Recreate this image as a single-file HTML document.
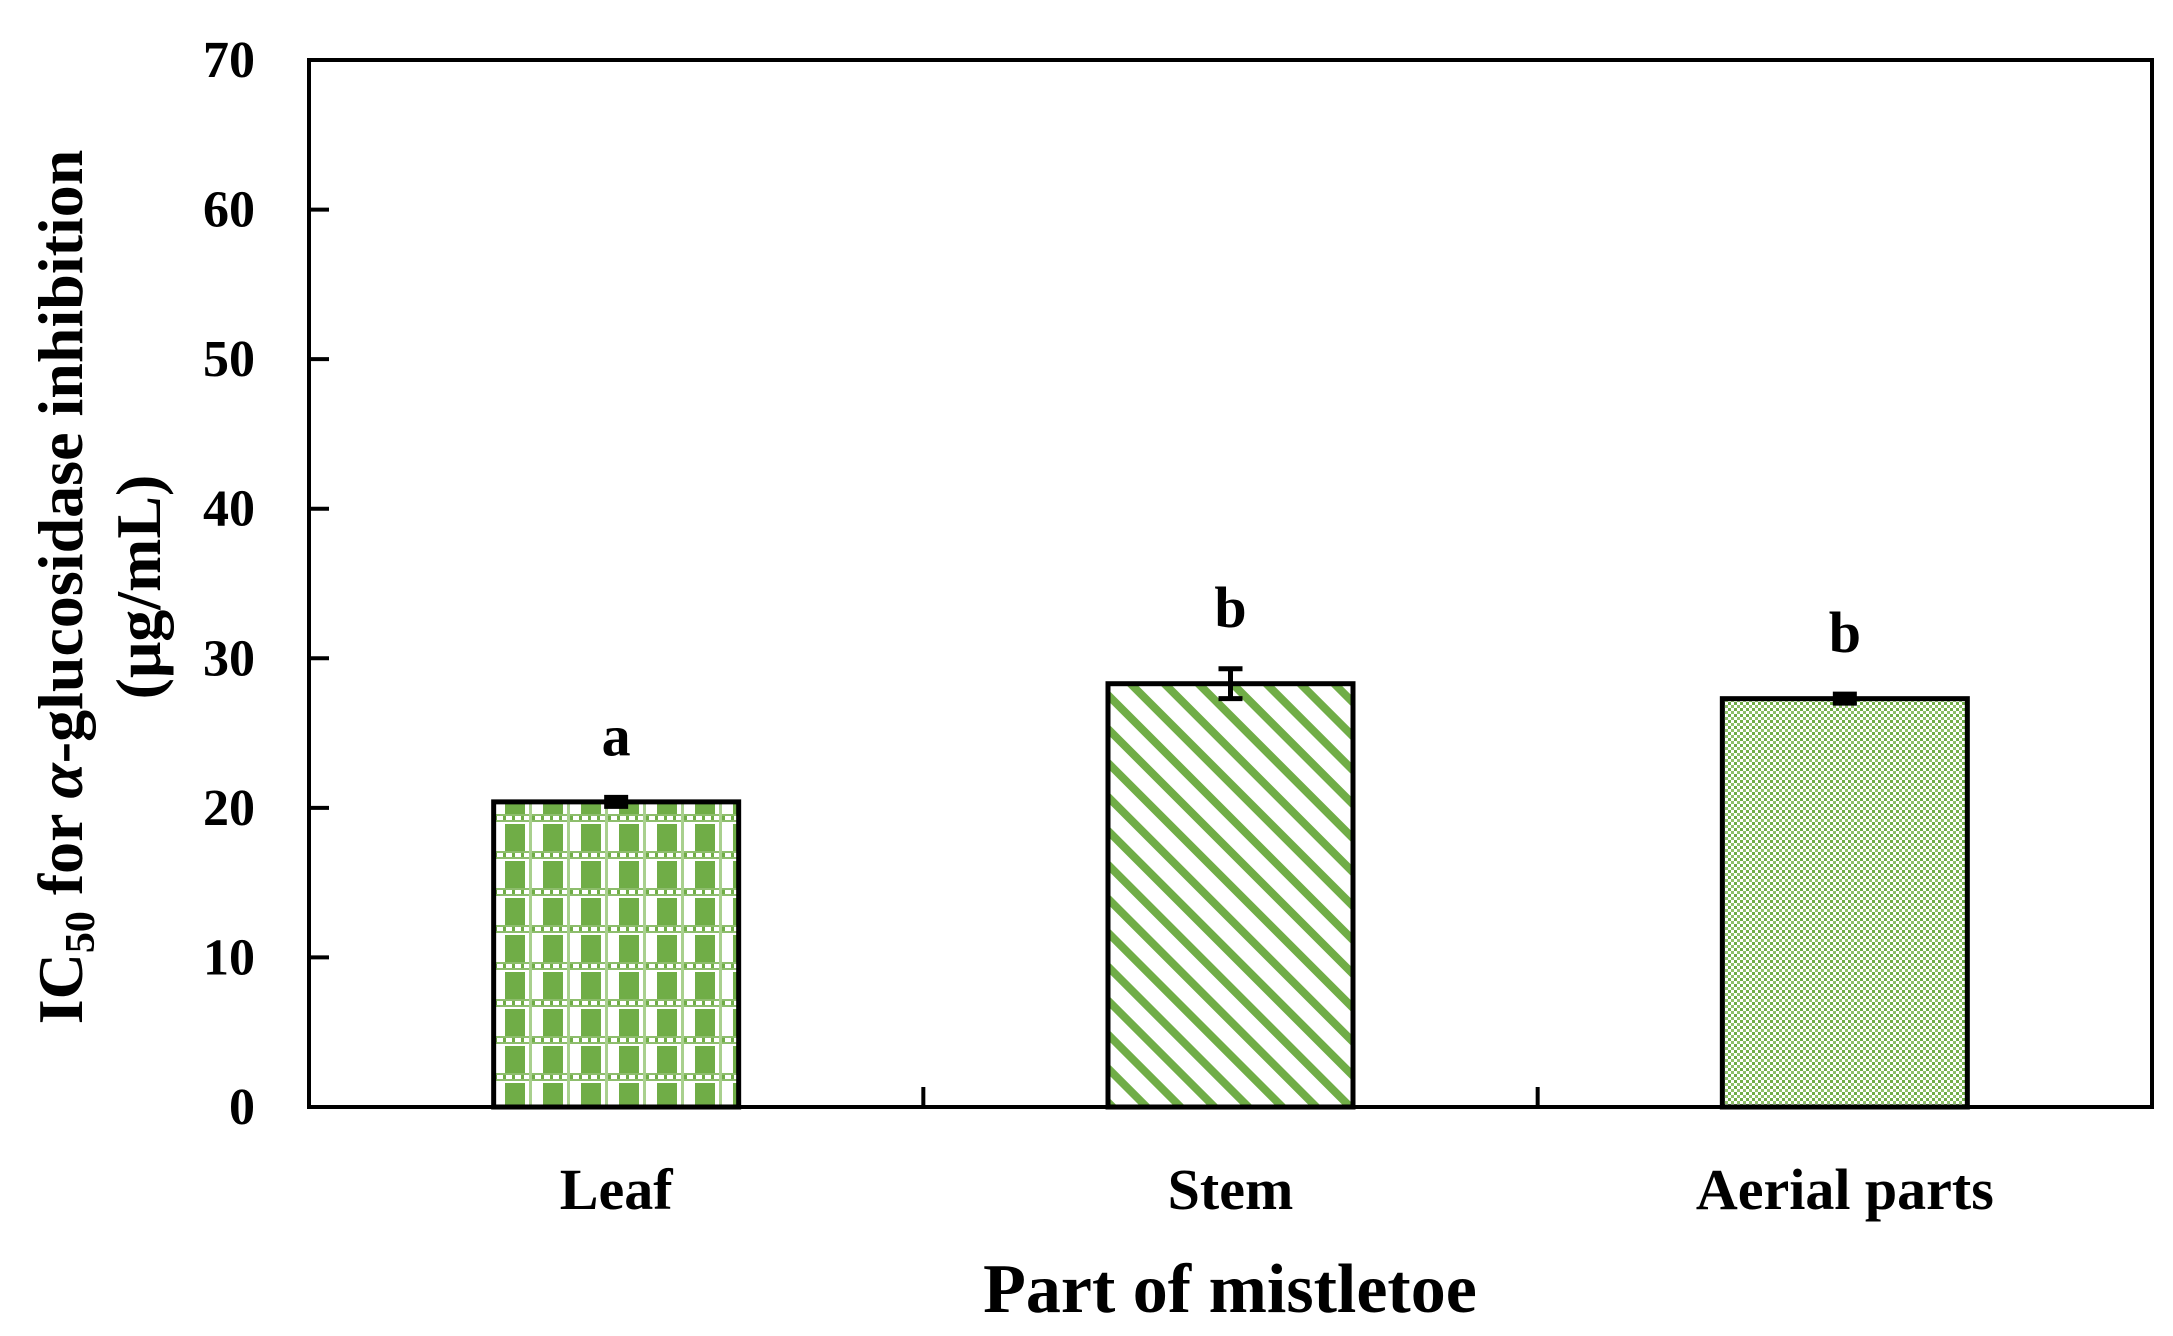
<!DOCTYPE html>
<html><head><meta charset="utf-8"><style>
html,body{margin:0;padding:0;background:#fff;}
svg{display:block;}
text{font-family:"Liberation Serif",serif;font-weight:bold;fill:#000;}
</style></head><body>
<svg id="chart" width="2173" height="1336" viewBox="0 0 2173 1336" xmlns="http://www.w3.org/2000/svg">
<defs>
<pattern id="pat-leaf" patternUnits="userSpaceOnUse" width="38" height="37" x="491" y="0">
<rect x="0" y="0" width="38" height="37" fill="#fff"/>
<rect x="14" y="10" width="20" height="27" fill="#70ad47"/>
<rect x="0" y="0" width="38" height="2" fill="#70ad47" opacity="0.8"/>
<rect x="0" y="6" width="38" height="2" fill="#70ad47" opacity="0.8"/>
<rect x="3" y="2" width="3" height="4" fill="#70ad47"/><rect x="12" y="2" width="3" height="4" fill="#70ad47"/><rect x="21" y="2" width="3" height="4" fill="#70ad47"/><rect x="30" y="2" width="3" height="4" fill="#70ad47"/>
<rect x="0" y="0" width="3" height="37" fill="#a9d08e"/>
</pattern>
<pattern id="pat-stem" patternUnits="userSpaceOnUse" width="24" height="24" patternTransform="rotate(-45)">
<rect width="24" height="24" fill="#fff"/>
<rect x="0" y="0" width="8" height="24" fill="#70ad47"/>
</pattern>
<pattern id="pat-aerial" patternUnits="userSpaceOnUse" width="6" height="6">
<rect width="6" height="6" fill="#fff"/>
<rect x="0" y="0" width="3" height="3" fill="#70ad47"/>
<rect x="3" y="3" width="3" height="3" fill="#8fc06a"/>
</pattern>
</defs>
<g id="plot"></g>
</svg>
<script>
const categories = ["Leaf", "Stem", "Aerial parts"];
const values = [20.4, 28.3, 27.3];
const errors = [0.3, 1.0, 0.3];
const letters = ["a", "b", "b"];
const yTicks = [0, 10, 20, 30, 40, 50, 60, 70];
const patterns = ["url(#pat-leaf)", "url(#pat-stem)", "url(#pat-aerial)"];

const NS = "http://www.w3.org/2000/svg";
const g = document.getElementById("plot");
const L = 309, R = 2152, T = 60, B = 1107, yMax = 70;
const catW = (R - L) / categories.length;
const barW = 245;
const y = v => B - v / yMax * (B - T);
const xC = i => L + catW * (i + 0.5);
function mk(tag, attrs, parent) {
  const e = document.createElementNS(NS, tag);
  for (const k in attrs) e.setAttribute(k, attrs[k]);
  (parent || g).appendChild(e);
  return e;
}

categories.forEach((c, i) => {
  const bar = mk("rect", {x: xC(i) - barW / 2, y: y(values[i]), width: barW, height: B - y(values[i]), fill: patterns[i], stroke: "#000", "stroke-width": 5});
  
  
  const eb = mk("path", {d: `M${xC(i)-12},${y(values[i]+errors[i])}H${xC(i)+12}M${xC(i)},${y(values[i]+errors[i])}V${y(values[i]-errors[i])}M${xC(i)-12},${y(values[i]-errors[i])}H${xC(i)+12}`, stroke: "#000", "stroke-width": 5, fill: "none"});
  
  
  const lt = mk("text", {x: xC(i), y: y(values[i] + errors[i]) - 42, "text-anchor": "middle", "font-size": 58});
  lt.textContent = letters[i];
  
  
  const xl = mk("text", {x: xC(i), y: 1209, "text-anchor": "middle", "font-size": 58});
  xl.textContent = c;
  
  
});
for (let i = 1; i < categories.length; i++) {
  const t = mk("line", {x1: L + catW * i, x2: L + catW * i, y1: B, y2: B - 20, stroke: "#000", "stroke-width": 4});
  
  
}
yTicks.forEach(v => {
  const t = mk("line", {x1: L, x2: L + 20, y1: y(v), y2: y(v), stroke: "#000", "stroke-width": 4});
  
  
  const tl = mk("text", {x: 255, y: y(v) + 17, "text-anchor": "end", "font-size": 52});
  tl.textContent = v;
  
  
});
const frame = mk("rect", {x: L, y: T, width: R - L, height: B - T, fill: "none", stroke: "#000", "stroke-width": 4});



const yt = mk("text", {transform: "translate(82,587) rotate(-90)", "text-anchor": "middle", "font-size": 64});
yt.innerHTML = 'IC<tspan font-size="42" dy="12">50</tspan><tspan dy="-12"> for </tspan><tspan font-style="italic">α</tspan>-glucosidase inhibition';


const yt2 = mk("text", {transform: "translate(160,587) rotate(-90)", "text-anchor": "middle", "font-size": 64});
yt2.textContent = "(μg/mL)";


const xt = mk("text", {x: 1230, y: 1312, "text-anchor": "middle", "font-size": 70});
xt.textContent = "Part of mistletoe";


</script>
</body></html>
